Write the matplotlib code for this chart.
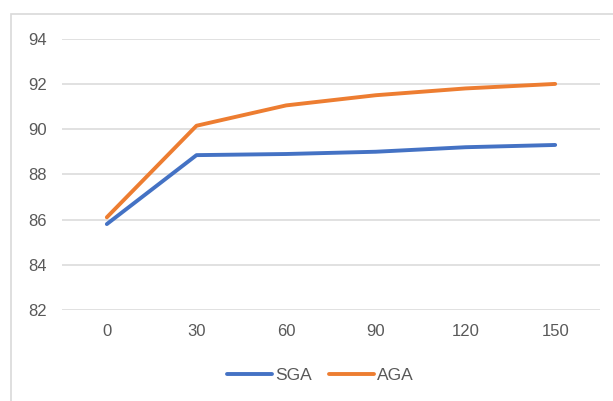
import matplotlib
matplotlib.use("Agg")
import matplotlib.pyplot as plt
from matplotlib.patches import Rectangle

# data
categories = ["0", "30", "60", "90", "120", "150"]
sga = [85.8, 88.85, 88.9, 89.0, 89.2, 89.3]
aga = [86.1, 90.15, 91.05, 91.5, 91.8, 92.0]
y_ticks = [82, 84, 86, 88, 90, 92, 94]

plt.rcParams['font.family'] = ['Liberation Sans', 'DejaVu Sans']

fig = plt.figure(figsize=(6.13, 4.01), dpi=100)

# outer chart frame (cut off on the right and bottom like the screenshot)
fig.patches.append(Rectangle((11 / 613, -0.05), 1.0, 1 - 14 / 401 + 0.05,
                             transform=fig.transFigure, fill=False,
                             edgecolor="#d9d9d9", linewidth=1.2))

ax = fig.add_axes([62 / 613, 1 - 310 / 401, (600 - 62) / 613, (310 - 38.7) / 401])

x = range(len(categories))
ax.plot(x, sga, color="#4472C4", linewidth=2.8, label="SGA", solid_capstyle="round")
ax.plot(x, aga, color="#ED7D31", linewidth=2.8, label="AGA", solid_capstyle="round")

ax.set_xlim(-0.5, len(categories) - 0.5)
ax.set_ylim(82, 94)
ax.set_yticks(y_ticks)
ax.set_xticks(list(x))
ax.set_xticklabels(categories)
ax.grid(axis="y", color="#d9d9d9", linewidth=1.1)
ax.set_axisbelow(True)
for s in ax.spines.values():
    s.set_visible(False)
ax.tick_params(length=0, labelsize=12, colors="#595959")
ax.tick_params(axis="x", pad=10)
ax.tick_params(axis="y", pad=11)

leg = ax.legend(loc="center", bbox_to_anchor=(0.48, -0.24), ncol=2,
                frameon=False, fontsize=12.5, handlelength=2.6,
                handletextpad=0.15, columnspacing=1.0)
for t in leg.get_texts():
    t.set_color("#595959")

fig.savefig("out.png", dpi=100)
